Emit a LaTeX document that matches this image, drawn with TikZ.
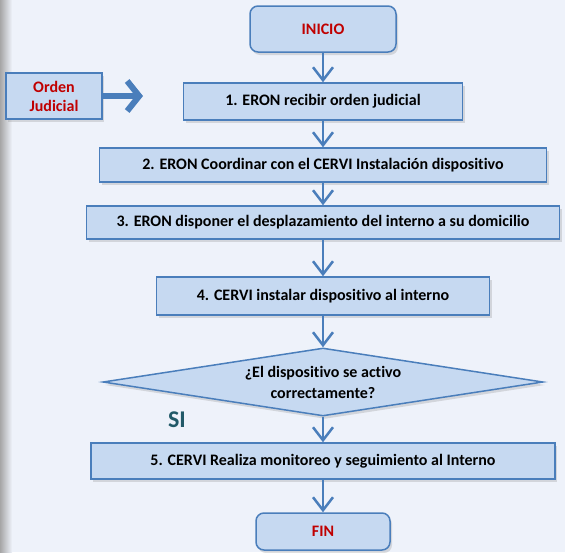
\documentclass[tikz,border=0pt]{standalone}
\usepackage{fontspec}
\setmainfont{Carlito}[Ligatures=NoCommon]
\usetikzlibrary{arrows.meta, shapes.geometric, shadows}

\definecolor{fondo}{HTML}{EEF2FA}
\definecolor{caja}{HTML}{C6D9F1}
\definecolor{borde}{HTML}{4A7EBB}
\definecolor{rojo}{HTML}{C00000}
\definecolor{verdeazul}{HTML}{215968}

\tikzset{
  paso/.style={draw=borde, line width=1.5pt, fill=caja, inner sep=2pt,
    font=\fontsize{16}{19}\selectfont\bfseries, align=center,
    drop shadow={shadow xshift=2pt, shadow yshift=-3pt, opacity=0.25}},
  terminal/.style={paso, rounded corners=8pt, text=rojo},
  decision/.style={paso, diamond, aspect=6.5, inner sep=0pt,
    font=\fontsize{16}{21}\selectfont\bfseries},
  flecha/.style={draw=borde, line width=2.5pt, -{Straight Barb[length=13pt, width=20pt]}},
  flechagruesa/.style={draw=borde, line width=6pt, -{Straight Barb[length=12pt, width=30pt]}}
}

\begin{document}
\begin{tikzpicture}[x=1pt, y=-1pt]

    % background and the grey strip on the left edge
    \fill[fondo] (0,0) rectangle (565,552);
    \shade[left color=black!35, right color=fondo] (0,0) rectangle (12,552);
    \useasboundingbox (0,0) rectangle (565,552);

    % start and the judicial order
    \node[terminal, minimum width=146, minimum height=46] (inicio) at (323,29) {INICIO};
    \node[paso, text=rojo, minimum width=96, minimum height=46] (orden) at (54,96) {Orden\\Judicial};
    \coordinate (ordenfin) at (143,96);

    % the steps
    \node[paso, minimum width=279, minimum height=37] (paso1) at (323,101.5) {1. ERON recibir orden judicial};
    \node[paso, minimum width=447, minimum height=34] (paso2) at (323,165) {2. ERON Coordinar con el CERVI Instalación dispositivo};
    \node[paso, minimum width=473, minimum height=33] (paso3) at (323,222.5) {3. ERON disponer el desplazamiento del interno a su domicilio};
    \node[paso, minimum width=333, minimum height=38] (paso4) at (323,296) {4. CERVI instalar dispositivo al interno};
    \node[decision, minimum width=440, minimum height=68] (pregunta) at (323,382) {¿El dispositivo se activo\\correctamente?};
    \node[font=\fontsize{24}{24}\selectfont\bfseries, text=verdeazul] (si) at (177,420) {SI};
    \node[paso, minimum width=464, minimum height=36] (paso5) at (323,461) {5. CERVI Realiza monitoreo y seguimiento al Interno};
    \node[terminal, minimum width=134, minimum height=37] (fin) at (323,531.5) {FIN};

    % connectors
    \draw[flechagruesa] (orden.east) -- (ordenfin);
    \draw[flecha] (inicio) -- (paso1);
    \draw[flecha] (paso1) -- (paso2);
    \draw[flecha] (paso2) -- (paso3);
    \draw[flecha] (paso3) -- (paso4);
    \draw[flecha] (paso4) -- (pregunta);
    \draw[flecha] (pregunta) -- (paso5);
    \draw[flecha] (paso5) -- (fin);

\end{tikzpicture}
\end{document}
